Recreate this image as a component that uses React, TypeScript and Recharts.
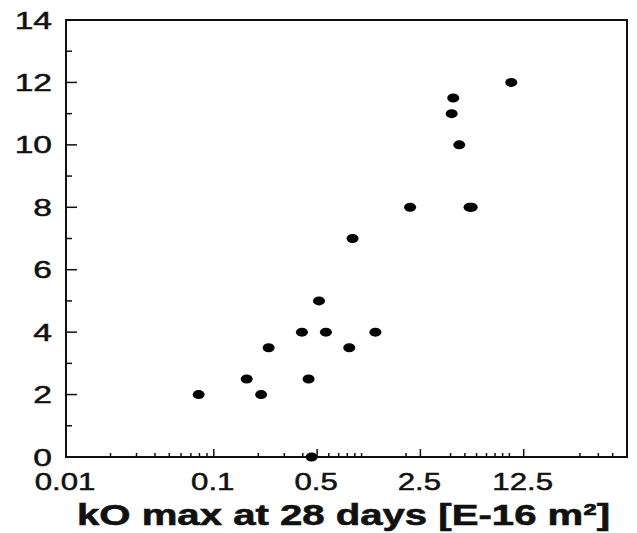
import { ScatterChart, Scatter, XAxis, YAxis, ReferenceArea, Label } from "recharts";

// kO max at 28 days [E-16 m²] (x) and measured value (y)
const kOMax = [0.079, 0.167, 0.209, 0.235, 0.395, 0.438, 0.459, 0.515, 0.574, 0.825, 0.869, 1.24, 2.13, 4.07, 4.17, 4.58, 5.38, 5.56, 10.3];
const yValues = [2, 2.5, 2, 3.5, 4, 2.5, 0, 5, 4, 3.5, 7, 4, 8, 11, 11.5, 10, 8, 8, 12];

const xMajor = [0.01, 0.1, 0.5, 2.5, 12.5];
const xMinor = [0.02, 0.03, 0.04, 0.05, 0.06, 0.07, 0.08, 0.09, 0.2, 0.3, 0.4, 0.6, 0.7, 0.8, 0.9, 1, 2, 4, 5, 6, 7, 8, 9, 10, 30, 40, 50];
const yMajor = [0, 2, 4, 6, 8, 10, 12, 14];
const yMinor = [1, 3, 5, 7, 9, 11, 13];

const xDomain = [0.01, 62.5];
const yDomain = [0, 14];

const data = kOMax.map((x, i) => ({ x, y: yValues[i] }));

const ink = "#111";
const font = "'Liberation Sans', Arial, sans-serif";

function XTick(props: any) {
  const { x, y, payload } = props;
  const major = xMajor.includes(payload.value);
  return (
    <g>
      <line x1={x} x2={x} y1={y} y2={y - (major ? 8 : 4)} stroke={ink} strokeWidth={1.5} />
      {major && (
        <text
          transform={`translate(${x - 1},${y + 33}) scale(1.3,1)`}
          textAnchor="middle"
          fontSize={24}
          fontFamily={font}
          fill={ink}
          stroke={ink}
          strokeWidth={0.5}
        >
          {payload.value}
        </text>
      )}
    </g>
  );
}

function YTick(props: any) {
  const { x, y, payload } = props;
  const major = yMajor.includes(payload.value);
  return (
    <g>
      <line x1={x} x2={x + (major ? 11 : 6)} y1={y} y2={y} stroke={ink} strokeWidth={1.5} />
      {major && (
        <text
          transform={`translate(${x - 14},${y + 8.5}) scale(1.4,1)`}
          textAnchor="end"
          fontSize={24}
          fontFamily={font}
          fill={ink}
          stroke={ink}
          strokeWidth={0.5}
        >
          {payload.value}
        </text>
      )}
    </g>
  );
}

function Dot(props: any) {
  return <ellipse cx={props.cx} cy={props.cy} rx={6} ry={4.5} fill="#000" />;
}

function Title(props: any) {
  const vb = props.viewBox;
  return (
    <text
      x={vb.x + vb.width / 2 - 3}
      y={vb.y + 68}
      textAnchor="middle"
      fontSize={30}
      fontWeight="bold"
      fontFamily={font}
      fill={ink}
      stroke={ink}
      strokeWidth={0.6}
      textLength={533}
      lengthAdjust="spacingAndGlyphs"
    >
      kO max at 28 days [E-16 m²]
    </text>
  );
}

export default function App() {
  return (
    <div style={{ width: 637, height: 533, background: "#fff" }}>
      <style>{"body{margin:0}"}</style>
      <ScatterChart width={637} height={533} margin={{ top: 20, right: 10, left: 0, bottom: 0 }}>
        <XAxis
          type="number"
          dataKey="x"
          scale="log"
          domain={xDomain}
          ticks={[...xMajor, ...xMinor].sort((a, b) => a - b)}
          interval={0}
          height={76}
          tickSize={0}
          tickMargin={0}
          tickLine={false}
          tick={<XTick />}
          axisLine={{ stroke: ink, strokeWidth: 2 }}
        >
          <Label content={<Title />} />
        </XAxis>
        <YAxis
          type="number"
          dataKey="y"
          domain={yDomain}
          ticks={[...yMajor, ...yMinor].sort((a, b) => a - b)}
          interval={0}
          width={66}
          tickSize={0}
          tickMargin={0}
          tickLine={false}
          tick={<YTick />}
          axisLine={{ stroke: ink, strokeWidth: 2 }}
        />
        <ReferenceArea
          x1={xDomain[0]}
          x2={xDomain[1]}
          y1={yDomain[0]}
          y2={yDomain[1]}
          fill="none"
          stroke={ink}
          strokeWidth={2}
        />
        <Scatter data={data} shape={<Dot />} isAnimationActive={false} />
      </ScatterChart>
    </div>
  );
}
